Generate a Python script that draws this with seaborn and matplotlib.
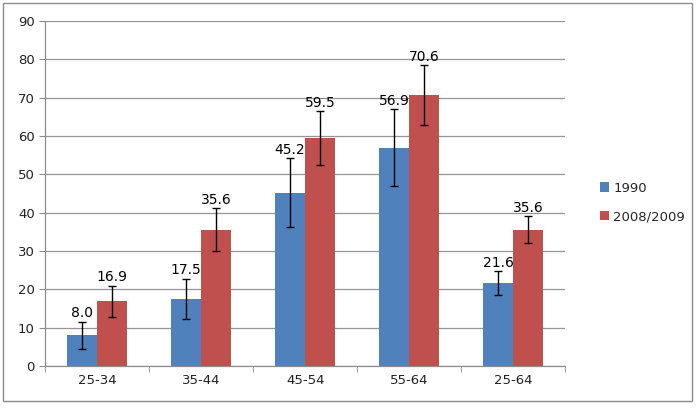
import matplotlib
matplotlib.use("Agg")
import matplotlib.pyplot as plt
import seaborn as sns
import pandas as pd
import numpy as np
from matplotlib.patches import Rectangle, Patch

# Data
age_groups = ["25-34", "35-44", "45-54", "55-64", "25-64"]
series = ["1990", "2008/2009"]
values_1990 = [8.0, 17.5, 45.2, 56.9, 21.6]
values_2008 = [16.9, 35.6, 59.5, 70.6, 35.6]
err_1990 = [3.6, 5.3, 9.0, 10.0, 3.2]
err_2008 = [4.1, 5.5, 7.0, 7.8, 3.4]

colors = ["#4F81BD", "#C0504D"]

df = pd.DataFrame({
    "age": age_groups * 2,
    "year": [series[0]] * len(age_groups) + [series[1]] * len(age_groups),
    "value": values_1990 + values_2008,
})

sns.set_style("white")
plt.rcParams["font.family"] = ["DejaVu Sans"]

fig = plt.figure(figsize=(6.96, 4.09), dpi=100)
ax = fig.add_axes([0.065, 0.105, 0.747, 0.844])

sns.barplot(data=df, x="age", y="value", hue="year", palette=colors,
            width=0.58, gap=0, errorbar=None, ax=ax, legend=False,
            saturation=1, edgecolor="none")

# Error bars and value labels
for cont, vals, errs in zip(ax.containers, [values_1990, values_2008], [err_1990, err_2008]):
    xs = [p.get_x() + p.get_width() / 2 for p in cont.patches]
    ax.errorbar(xs, vals, yerr=errs, fmt="none", ecolor="black",
                elinewidth=1, capsize=3, capthick=1, zorder=4)
    for x, v, e in zip(xs, vals, errs):
        ax.annotate(f"{v:.1f}", (x, v + e), xytext=(0, 1), textcoords="offset points",
                    ha="center", va="bottom", fontsize=10, color="black")

ax.set_ylim(0, 90)
ax.set_yticks(np.arange(0, 91, 10))
ax.set_xlim(-0.5, len(age_groups) - 0.5)
ax.yaxis.grid(True, color="#959595", linewidth=0.9)
ax.set_axisbelow(True)
ax.set_xlabel("")
ax.set_ylabel("")

for s in ["top", "right"]:
    ax.spines[s].set_visible(False)
for s in ["left", "bottom"]:
    ax.spines[s].set_color("#8c8c8c")
    ax.spines[s].set_linewidth(0.9)

ax.tick_params(axis="y", length=4, color="#8c8c8c", labelsize=9.5, labelcolor="#222222", left=True)
ax.tick_params(axis="x", which="major", length=0, labelsize=9.5, labelcolor="#222222", pad=6)
ax.set_xticks(np.arange(-0.5, len(age_groups), 1.0), minor=True)
ax.tick_params(axis="x", which="minor", length=4, color="#8c8c8c", bottom=True)

handles = [Patch(facecolor=c, edgecolor="none") for c in colors]
fig.legend(handles, series, loc="center left", bbox_to_anchor=(0.845, 0.505),
           frameon=False, fontsize=9.5, handlelength=0.7, handleheight=0.7,
           handletextpad=0.3, labelspacing=1.2)

# Outer chart border
fig.patches.append(Rectangle((0.004, 0.02), 0.99, 0.973, transform=fig.transFigure,
                             fill=False, edgecolor="#8c8c8c", linewidth=1))

fig.savefig("out.png", dpi=100)
plt.close(fig)
